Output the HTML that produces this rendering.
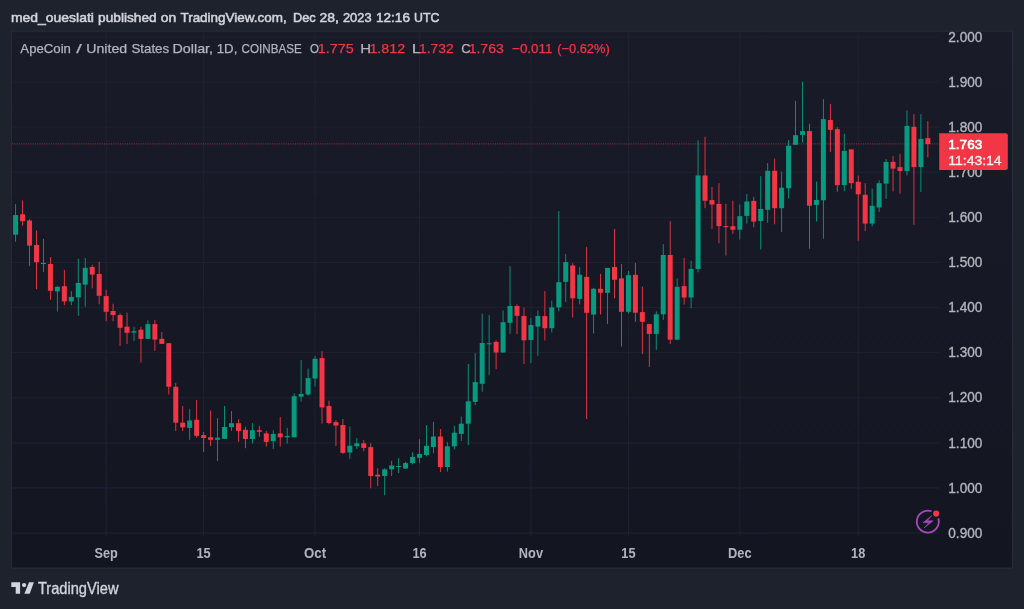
<!DOCTYPE html>
<html><head><meta charset="utf-8"><style>
html,body{margin:0;padding:0;background:#1e222d;width:1024px;height:609px;overflow:hidden}
svg{display:block;will-change:transform}
text{font-family:"Liberation Sans",sans-serif}
.hd{font-size:13.6px;fill:#d1d4dc;stroke:#d1d4dc;stroke-width:0.55px}
.lg{font-size:12.9px;fill:#b2b5be;stroke:#b2b5be;stroke-width:0.25px}
.rd{font-size:12.9px;fill:#f23645;stroke:#f23645;stroke-width:0.25px}
.ax{font-size:13.8px;fill:#b2b5be;stroke:#b2b5be;stroke-width:0.35px}
.tm{font-size:14px;font-weight:bold;fill:#b2b5be}
.bx1{font-size:13.4px;fill:#ffffff;stroke:#ffffff;stroke-width:0.6px}
.bx2{font-size:13.4px;fill:#ffffff;stroke:#ffffff;stroke-width:0.35px;opacity:0.92}
.tv{font-size:15.6px;fill:#d1d4dc;stroke:#d1d4dc;stroke-width:0.35px}
</style></head><body>
<svg width="1024" height="609" viewBox="0 0 1024 609">
<rect x="0" y="0" width="1024" height="609" fill="#1e222d"/>
<defs><linearGradient id="pg" x1="0" y1="0" x2="0" y2="1"><stop offset="0" stop-color="#191c28"/><stop offset="1" stop-color="#131621"/></linearGradient></defs>
<rect x="11.4" y="31.1" width="1001.1" height="537" fill="url(#pg)" stroke="#2a2e39" stroke-width="1"/>
<rect x="12" y="36.40" width="927.5" height="1" fill="#1f2230"/><rect x="12" y="81.51" width="927.5" height="1" fill="#1f2230"/><rect x="12" y="126.62" width="927.5" height="1" fill="#1f2230"/><rect x="12" y="171.73" width="927.5" height="1" fill="#1f2230"/><rect x="12" y="216.84" width="927.5" height="1" fill="#1f2230"/><rect x="12" y="261.95" width="927.5" height="1" fill="#1f2230"/><rect x="12" y="307.06" width="927.5" height="1" fill="#1f2230"/><rect x="12" y="352.17" width="927.5" height="1" fill="#1f2230"/><rect x="12" y="397.28" width="927.5" height="1" fill="#1f2230"/><rect x="12" y="442.39" width="927.5" height="1" fill="#1f2230"/><rect x="12" y="487.50" width="927.5" height="1" fill="#1f2230"/><rect x="12" y="532.61" width="927.5" height="1" fill="#1f2230"/><rect x="105.63" y="32" width="1" height="504" fill="#1f2230"/><rect x="203.12" y="32" width="1" height="504" fill="#1f2230"/><rect x="314.54" y="32" width="1" height="504" fill="#1f2230"/><rect x="419.00" y="32" width="1" height="504" fill="#1f2230"/><rect x="530.42" y="32" width="1" height="504" fill="#1f2230"/><rect x="627.91" y="32" width="1" height="504" fill="#1f2230"/><rect x="739.34" y="32" width="1" height="504" fill="#1f2230"/><rect x="857.72" y="32" width="1" height="504" fill="#1f2230"/>
<line x1="12" y1="143.8" x2="939" y2="143.8" stroke="#f23645" stroke-width="1.2" stroke-dasharray="1 1.3" opacity="0.55"/>
<rect x="15.15" y="204.20" width="0.9" height="37.70" fill="#089981"/><rect x="13.10" y="215.10" width="5.0" height="19.60" fill="#089981"/><rect x="22.11" y="200.50" width="0.9" height="25.30" fill="#f23645"/><rect x="20.06" y="214.30" width="5.0" height="6.90" fill="#f23645"/><rect x="29.08" y="219.10" width="0.9" height="47.00" fill="#f23645"/><rect x="27.03" y="220.50" width="5.0" height="25.10" fill="#f23645"/><rect x="36.04" y="230.40" width="0.9" height="58.70" fill="#f23645"/><rect x="33.99" y="245.00" width="5.0" height="17.20" fill="#f23645"/><rect x="43.01" y="238.90" width="0.9" height="32.90" fill="#089981"/><rect x="40.96" y="262.90" width="5.0" height="1.10" fill="#089981"/><rect x="49.97" y="257.10" width="0.9" height="42.60" fill="#f23645"/><rect x="47.92" y="264.00" width="5.0" height="26.80" fill="#f23645"/><rect x="56.93" y="286.20" width="0.9" height="25.30" fill="#089981"/><rect x="54.88" y="286.80" width="5.0" height="4.60" fill="#089981"/><rect x="63.90" y="270.10" width="0.9" height="35.10" fill="#f23645"/><rect x="61.85" y="286.20" width="5.0" height="15.20" fill="#f23645"/><rect x="70.86" y="291.10" width="0.9" height="14.10" fill="#089981"/><rect x="68.81" y="296.90" width="5.0" height="4.50" fill="#089981"/><rect x="77.82" y="258.60" width="0.9" height="57.20" fill="#089981"/><rect x="75.77" y="283.00" width="5.0" height="14.40" fill="#089981"/><rect x="84.79" y="258.00" width="0.9" height="48.70" fill="#089981"/><rect x="82.74" y="267.90" width="5.0" height="16.70" fill="#089981"/><rect x="91.75" y="264.80" width="0.9" height="23.60" fill="#f23645"/><rect x="89.70" y="267.00" width="5.0" height="7.60" fill="#f23645"/><rect x="98.72" y="261.70" width="0.9" height="42.60" fill="#f23645"/><rect x="96.67" y="274.00" width="5.0" height="21.80" fill="#f23645"/><rect x="105.68" y="290.00" width="0.9" height="31.20" fill="#f23645"/><rect x="103.63" y="296.10" width="5.0" height="15.70" fill="#f23645"/><rect x="112.64" y="303.70" width="0.9" height="17.50" fill="#f23645"/><rect x="110.59" y="311.00" width="5.0" height="4.00" fill="#f23645"/><rect x="119.61" y="313.30" width="0.9" height="32.60" fill="#f23645"/><rect x="117.56" y="315.10" width="5.0" height="12.70" fill="#f23645"/><rect x="126.57" y="312.70" width="0.9" height="31.30" fill="#f23645"/><rect x="124.52" y="326.70" width="5.0" height="6.10" fill="#f23645"/><rect x="133.53" y="326.80" width="0.9" height="14.20" fill="#089981"/><rect x="131.48" y="331.20" width="5.0" height="1.40" fill="#089981"/><rect x="140.50" y="326.80" width="0.9" height="35.70" fill="#f23645"/><rect x="138.45" y="329.70" width="5.0" height="9.20" fill="#f23645"/><rect x="147.46" y="320.30" width="0.9" height="18.60" fill="#089981"/><rect x="145.41" y="324.10" width="5.0" height="14.80" fill="#089981"/><rect x="154.43" y="319.90" width="0.9" height="31.10" fill="#f23645"/><rect x="152.38" y="324.10" width="5.0" height="15.50" fill="#f23645"/><rect x="161.39" y="332.00" width="0.9" height="11.90" fill="#f23645"/><rect x="159.34" y="338.90" width="5.0" height="5.00" fill="#f23645"/><rect x="168.35" y="343.10" width="0.9" height="51.40" fill="#f23645"/><rect x="166.30" y="343.20" width="5.0" height="43.50" fill="#f23645"/><rect x="175.32" y="382.90" width="0.9" height="48.10" fill="#f23645"/><rect x="173.27" y="386.80" width="5.0" height="35.90" fill="#f23645"/><rect x="182.28" y="406.00" width="0.9" height="25.00" fill="#f23645"/><rect x="180.23" y="422.70" width="5.0" height="4.60" fill="#f23645"/><rect x="189.25" y="408.90" width="0.9" height="30.90" fill="#089981"/><rect x="187.19" y="420.50" width="5.0" height="7.40" fill="#089981"/><rect x="196.21" y="400.00" width="0.9" height="37.80" fill="#f23645"/><rect x="194.16" y="419.80" width="5.0" height="16.00" fill="#f23645"/><rect x="203.17" y="432.00" width="0.9" height="19.90" fill="#f23645"/><rect x="201.12" y="435.10" width="5.0" height="2.90" fill="#f23645"/><rect x="210.14" y="410.50" width="0.9" height="35.50" fill="#f23645"/><rect x="208.09" y="437.20" width="5.0" height="2.60" fill="#f23645"/><rect x="217.10" y="418.10" width="0.9" height="42.90" fill="#089981"/><rect x="215.05" y="437.70" width="5.0" height="2.10" fill="#089981"/><rect x="224.06" y="406.00" width="0.9" height="32.80" fill="#089981"/><rect x="222.01" y="427.00" width="5.0" height="11.80" fill="#089981"/><rect x="231.03" y="411.00" width="0.9" height="19.90" fill="#089981"/><rect x="228.98" y="423.20" width="5.0" height="4.00" fill="#089981"/><rect x="237.99" y="419.30" width="0.9" height="22.50" fill="#f23645"/><rect x="235.94" y="423.20" width="5.0" height="7.70" fill="#f23645"/><rect x="244.96" y="426.80" width="0.9" height="21.40" fill="#f23645"/><rect x="242.91" y="429.80" width="5.0" height="9.20" fill="#f23645"/><rect x="251.92" y="423.20" width="0.9" height="20.40" fill="#089981"/><rect x="249.87" y="430.20" width="5.0" height="8.80" fill="#089981"/><rect x="258.88" y="425.90" width="0.9" height="10.90" fill="#f23645"/><rect x="256.83" y="430.20" width="5.0" height="1.60" fill="#f23645"/><rect x="265.85" y="431.10" width="0.9" height="15.40" fill="#f23645"/><rect x="263.80" y="433.40" width="5.0" height="8.50" fill="#f23645"/><rect x="272.81" y="430.20" width="0.9" height="18.70" fill="#089981"/><rect x="270.76" y="434.00" width="5.0" height="7.20" fill="#089981"/><rect x="279.77" y="417.10" width="0.9" height="29.40" fill="#f23645"/><rect x="277.72" y="433.40" width="5.0" height="3.90" fill="#f23645"/><rect x="286.74" y="427.80" width="0.9" height="15.80" fill="#089981"/><rect x="284.69" y="436.00" width="5.0" height="1.30" fill="#089981"/><rect x="293.70" y="393.20" width="0.9" height="44.10" fill="#089981"/><rect x="291.65" y="396.20" width="5.0" height="41.10" fill="#089981"/><rect x="300.67" y="360.00" width="0.9" height="41.70" fill="#089981"/><rect x="298.62" y="393.90" width="5.0" height="2.80" fill="#089981"/><rect x="307.63" y="368.60" width="0.9" height="27.20" fill="#089981"/><rect x="305.58" y="378.10" width="5.0" height="16.40" fill="#089981"/><rect x="314.59" y="355.80" width="0.9" height="30.80" fill="#089981"/><rect x="312.54" y="358.80" width="5.0" height="19.70" fill="#089981"/><rect x="321.56" y="351.20" width="0.9" height="72.40" fill="#f23645"/><rect x="319.51" y="358.10" width="5.0" height="49.30" fill="#f23645"/><rect x="328.52" y="400.70" width="0.9" height="23.60" fill="#f23645"/><rect x="326.47" y="406.00" width="5.0" height="17.00" fill="#f23645"/><rect x="335.48" y="420.00" width="0.9" height="26.00" fill="#f23645"/><rect x="333.43" y="422.10" width="5.0" height="3.50" fill="#f23645"/><rect x="342.45" y="419.00" width="0.9" height="34.90" fill="#f23645"/><rect x="340.40" y="425.00" width="5.0" height="27.90" fill="#f23645"/><rect x="349.41" y="426.50" width="0.9" height="32.40" fill="#089981"/><rect x="347.36" y="445.70" width="5.0" height="6.80" fill="#089981"/><rect x="356.38" y="438.10" width="0.9" height="10.80" fill="#089981"/><rect x="354.33" y="443.30" width="5.0" height="2.90" fill="#089981"/><rect x="363.34" y="440.10" width="0.9" height="11.10" fill="#f23645"/><rect x="361.29" y="443.30" width="5.0" height="4.60" fill="#f23645"/><rect x="370.30" y="443.10" width="0.9" height="45.20" fill="#f23645"/><rect x="368.25" y="447.10" width="5.0" height="28.90" fill="#f23645"/><rect x="377.27" y="468.30" width="0.9" height="17.80" fill="#f23645"/><rect x="375.22" y="474.70" width="5.0" height="1.80" fill="#f23645"/><rect x="384.23" y="468.30" width="0.9" height="27.00" fill="#089981"/><rect x="382.18" y="469.30" width="5.0" height="6.70" fill="#089981"/><rect x="391.20" y="460.70" width="0.9" height="15.30" fill="#089981"/><rect x="389.15" y="465.50" width="5.0" height="3.80" fill="#089981"/><rect x="398.16" y="458.10" width="0.9" height="14.90" fill="#089981"/><rect x="396.11" y="466.00" width="5.0" height="1.00" fill="#089981"/><rect x="405.12" y="461.80" width="0.9" height="6.80" fill="#089981"/><rect x="403.07" y="463.10" width="5.0" height="5.50" fill="#089981"/><rect x="412.09" y="452.30" width="0.9" height="12.10" fill="#089981"/><rect x="410.04" y="456.90" width="5.0" height="6.20" fill="#089981"/><rect x="419.05" y="439.20" width="0.9" height="23.90" fill="#089981"/><rect x="417.00" y="453.90" width="5.0" height="3.90" fill="#089981"/><rect x="426.01" y="425.20" width="0.9" height="31.10" fill="#089981"/><rect x="423.96" y="445.80" width="5.0" height="9.20" fill="#089981"/><rect x="432.98" y="421.90" width="0.9" height="31.30" fill="#089981"/><rect x="430.93" y="436.50" width="5.0" height="10.50" fill="#089981"/><rect x="439.94" y="429.00" width="0.9" height="43.10" fill="#f23645"/><rect x="437.89" y="436.50" width="5.0" height="30.50" fill="#f23645"/><rect x="446.91" y="442.10" width="0.9" height="29.50" fill="#089981"/><rect x="444.86" y="446.30" width="5.0" height="20.70" fill="#089981"/><rect x="453.87" y="425.80" width="0.9" height="23.70" fill="#089981"/><rect x="451.82" y="432.70" width="5.0" height="13.60" fill="#089981"/><rect x="460.83" y="416.50" width="0.9" height="24.60" fill="#089981"/><rect x="458.78" y="423.70" width="5.0" height="10.20" fill="#089981"/><rect x="467.80" y="364.00" width="0.9" height="81.00" fill="#089981"/><rect x="465.75" y="401.30" width="5.0" height="22.40" fill="#089981"/><rect x="474.76" y="353.10" width="0.9" height="52.10" fill="#089981"/><rect x="472.71" y="382.10" width="5.0" height="19.80" fill="#089981"/><rect x="481.72" y="313.70" width="0.9" height="78.00" fill="#089981"/><rect x="479.67" y="343.00" width="5.0" height="40.80" fill="#089981"/><rect x="488.69" y="315.00" width="0.9" height="60.30" fill="#089981"/><rect x="486.64" y="343.30" width="5.0" height="1.00" fill="#089981"/><rect x="495.65" y="340.30" width="0.9" height="28.90" fill="#f23645"/><rect x="493.60" y="341.90" width="5.0" height="10.60" fill="#f23645"/><rect x="502.62" y="310.50" width="0.9" height="42.00" fill="#089981"/><rect x="500.57" y="322.20" width="5.0" height="30.30" fill="#089981"/><rect x="509.58" y="266.20" width="0.9" height="67.60" fill="#089981"/><rect x="507.53" y="306.00" width="5.0" height="16.80" fill="#089981"/><rect x="516.54" y="304.30" width="0.9" height="29.80" fill="#f23645"/><rect x="514.49" y="306.00" width="5.0" height="9.80" fill="#f23645"/><rect x="523.51" y="307.40" width="0.9" height="56.60" fill="#f23645"/><rect x="521.46" y="316.00" width="5.0" height="24.30" fill="#f23645"/><rect x="530.47" y="318.00" width="0.9" height="45.00" fill="#089981"/><rect x="528.42" y="325.00" width="5.0" height="15.00" fill="#089981"/><rect x="537.43" y="310.50" width="0.9" height="45.20" fill="#089981"/><rect x="535.38" y="316.00" width="5.0" height="10.60" fill="#089981"/><rect x="544.40" y="291.00" width="0.9" height="49.40" fill="#f23645"/><rect x="542.35" y="316.10" width="5.0" height="12.10" fill="#f23645"/><rect x="551.36" y="300.60" width="0.9" height="31.90" fill="#089981"/><rect x="549.31" y="307.40" width="5.0" height="20.80" fill="#089981"/><rect x="558.33" y="211.00" width="0.9" height="100.30" fill="#089981"/><rect x="556.28" y="282.20" width="5.0" height="25.20" fill="#089981"/><rect x="565.29" y="254.00" width="0.9" height="48.00" fill="#089981"/><rect x="563.24" y="262.10" width="5.0" height="19.80" fill="#089981"/><rect x="572.25" y="263.10" width="0.9" height="54.40" fill="#f23645"/><rect x="570.20" y="265.50" width="5.0" height="32.80" fill="#f23645"/><rect x="579.22" y="267.10" width="0.9" height="37.30" fill="#089981"/><rect x="577.17" y="274.70" width="5.0" height="24.20" fill="#089981"/><rect x="586.18" y="247.10" width="0.9" height="171.90" fill="#f23645"/><rect x="584.13" y="276.90" width="5.0" height="35.90" fill="#f23645"/><rect x="593.15" y="287.80" width="0.9" height="45.70" fill="#089981"/><rect x="591.10" y="288.80" width="5.0" height="25.80" fill="#089981"/><rect x="600.11" y="273.90" width="0.9" height="40.60" fill="#f23645"/><rect x="598.06" y="288.80" width="5.0" height="3.90" fill="#f23645"/><rect x="607.07" y="267.90" width="0.9" height="56.20" fill="#089981"/><rect x="605.02" y="267.90" width="5.0" height="25.00" fill="#089981"/><rect x="614.04" y="229.00" width="0.9" height="69.30" fill="#f23645"/><rect x="611.99" y="267.00" width="5.0" height="12.80" fill="#f23645"/><rect x="621.00" y="264.00" width="0.9" height="82.60" fill="#f23645"/><rect x="618.95" y="278.40" width="5.0" height="33.40" fill="#f23645"/><rect x="627.96" y="271.00" width="0.9" height="42.60" fill="#089981"/><rect x="625.91" y="275.20" width="5.0" height="36.60" fill="#089981"/><rect x="634.93" y="263.00" width="0.9" height="58.80" fill="#f23645"/><rect x="632.88" y="274.80" width="5.0" height="37.90" fill="#f23645"/><rect x="641.89" y="286.70" width="0.9" height="67.30" fill="#f23645"/><rect x="639.84" y="312.10" width="5.0" height="9.70" fill="#f23645"/><rect x="648.86" y="323.60" width="0.9" height="43.30" fill="#f23645"/><rect x="646.81" y="324.10" width="5.0" height="9.80" fill="#f23645"/><rect x="655.82" y="311.30" width="0.9" height="38.40" fill="#089981"/><rect x="653.77" y="314.30" width="5.0" height="19.60" fill="#089981"/><rect x="662.78" y="244.20" width="0.9" height="75.60" fill="#089981"/><rect x="660.73" y="255.00" width="5.0" height="59.30" fill="#089981"/><rect x="669.75" y="221.20" width="0.9" height="122.70" fill="#f23645"/><rect x="667.70" y="255.00" width="5.0" height="84.70" fill="#f23645"/><rect x="676.71" y="278.40" width="0.9" height="61.30" fill="#089981"/><rect x="674.66" y="286.90" width="5.0" height="52.80" fill="#089981"/><rect x="683.67" y="257.90" width="0.9" height="46.70" fill="#f23645"/><rect x="681.62" y="286.10" width="5.0" height="11.40" fill="#f23645"/><rect x="690.64" y="260.80" width="0.9" height="47.50" fill="#089981"/><rect x="688.59" y="268.90" width="5.0" height="28.60" fill="#089981"/><rect x="697.60" y="140.30" width="0.9" height="132.00" fill="#089981"/><rect x="695.55" y="175.40" width="5.0" height="93.70" fill="#089981"/><rect x="704.57" y="136.70" width="0.9" height="71.50" fill="#f23645"/><rect x="702.52" y="175.50" width="5.0" height="25.30" fill="#f23645"/><rect x="711.53" y="187.00" width="0.9" height="41.90" fill="#f23645"/><rect x="709.48" y="200.10" width="5.0" height="4.40" fill="#f23645"/><rect x="718.49" y="183.20" width="0.9" height="60.00" fill="#f23645"/><rect x="716.44" y="203.90" width="5.0" height="22.20" fill="#f23645"/><rect x="725.46" y="203.90" width="0.9" height="51.60" fill="#f23645"/><rect x="723.41" y="226.10" width="5.0" height="1.10" fill="#f23645"/><rect x="732.42" y="200.80" width="0.9" height="33.00" fill="#f23645"/><rect x="730.37" y="226.20" width="5.0" height="3.50" fill="#f23645"/><rect x="739.39" y="204.40" width="0.9" height="35.10" fill="#089981"/><rect x="737.34" y="216.20" width="5.0" height="13.50" fill="#089981"/><rect x="746.35" y="194.00" width="0.9" height="29.60" fill="#089981"/><rect x="744.30" y="201.50" width="5.0" height="14.40" fill="#089981"/><rect x="753.31" y="196.90" width="0.9" height="30.50" fill="#f23645"/><rect x="751.26" y="200.90" width="5.0" height="20.70" fill="#f23645"/><rect x="760.28" y="176.20" width="0.9" height="73.30" fill="#089981"/><rect x="758.23" y="209.00" width="5.0" height="12.00" fill="#089981"/><rect x="767.24" y="163.00" width="0.9" height="59.80" fill="#089981"/><rect x="765.19" y="170.80" width="5.0" height="39.00" fill="#089981"/><rect x="774.20" y="158.60" width="0.9" height="65.70" fill="#f23645"/><rect x="772.15" y="170.80" width="5.0" height="37.40" fill="#f23645"/><rect x="781.17" y="171.60" width="0.9" height="60.40" fill="#089981"/><rect x="779.12" y="187.70" width="5.0" height="20.50" fill="#089981"/><rect x="788.13" y="140.00" width="0.9" height="58.50" fill="#089981"/><rect x="786.08" y="145.70" width="5.0" height="42.60" fill="#089981"/><rect x="795.10" y="100.70" width="0.9" height="44.10" fill="#089981"/><rect x="793.05" y="135.20" width="5.0" height="9.60" fill="#089981"/><rect x="802.06" y="81.70" width="0.9" height="60.80" fill="#089981"/><rect x="800.01" y="131.10" width="5.0" height="3.80" fill="#089981"/><rect x="809.02" y="123.70" width="0.9" height="125.00" fill="#f23645"/><rect x="806.97" y="131.10" width="5.0" height="74.60" fill="#f23645"/><rect x="815.99" y="181.60" width="0.9" height="40.00" fill="#089981"/><rect x="813.94" y="200.00" width="5.0" height="4.90" fill="#089981"/><rect x="822.95" y="99.00" width="0.9" height="139.80" fill="#089981"/><rect x="820.90" y="119.10" width="5.0" height="81.20" fill="#089981"/><rect x="829.91" y="103.90" width="0.9" height="48.10" fill="#f23645"/><rect x="827.86" y="120.00" width="5.0" height="9.90" fill="#f23645"/><rect x="836.88" y="127.10" width="0.9" height="64.60" fill="#f23645"/><rect x="834.83" y="129.10" width="5.0" height="56.00" fill="#f23645"/><rect x="843.84" y="133.90" width="0.9" height="57.20" fill="#089981"/><rect x="841.79" y="150.90" width="5.0" height="34.20" fill="#089981"/><rect x="850.81" y="149.40" width="0.9" height="39.50" fill="#f23645"/><rect x="848.76" y="149.40" width="5.0" height="33.70" fill="#f23645"/><rect x="857.77" y="175.60" width="0.9" height="65.20" fill="#f23645"/><rect x="855.72" y="181.80" width="5.0" height="12.50" fill="#f23645"/><rect x="864.73" y="183.20" width="0.9" height="47.90" fill="#f23645"/><rect x="862.68" y="194.80" width="5.0" height="28.80" fill="#f23645"/><rect x="871.70" y="188.60" width="0.9" height="37.90" fill="#089981"/><rect x="869.65" y="205.80" width="5.0" height="17.80" fill="#089981"/><rect x="878.66" y="180.20" width="0.9" height="31.70" fill="#089981"/><rect x="876.61" y="183.20" width="5.0" height="24.30" fill="#089981"/><rect x="885.62" y="159.00" width="0.9" height="39.90" fill="#089981"/><rect x="883.58" y="161.90" width="5.0" height="21.70" fill="#089981"/><rect x="892.59" y="156.10" width="0.9" height="35.30" fill="#f23645"/><rect x="890.54" y="161.90" width="5.0" height="6.70" fill="#f23645"/><rect x="899.55" y="153.90" width="0.9" height="39.80" fill="#f23645"/><rect x="897.50" y="167.10" width="5.0" height="3.90" fill="#f23645"/><rect x="906.52" y="110.50" width="0.9" height="64.80" fill="#089981"/><rect x="904.47" y="125.90" width="5.0" height="45.10" fill="#089981"/><rect x="913.48" y="114.20" width="0.9" height="110.60" fill="#f23645"/><rect x="911.43" y="126.80" width="5.0" height="40.30" fill="#f23645"/><rect x="920.44" y="114.20" width="0.9" height="77.80" fill="#089981"/><rect x="918.39" y="138.90" width="5.0" height="28.20" fill="#089981"/><rect x="927.41" y="121.10" width="0.9" height="36.20" fill="#f23645"/><rect x="925.36" y="138.10" width="5.0" height="6.00" fill="#f23645"/>
<text x="948.3" y="41.60" class="ax" textLength="34" lengthAdjust="spacingAndGlyphs">2.000</text><text x="948.3" y="86.71" class="ax" textLength="34" lengthAdjust="spacingAndGlyphs">1.900</text><text x="948.3" y="131.82" class="ax" textLength="34" lengthAdjust="spacingAndGlyphs">1.800</text><text x="948.3" y="176.93" class="ax" textLength="34" lengthAdjust="spacingAndGlyphs">1.700</text><text x="948.3" y="222.04" class="ax" textLength="34" lengthAdjust="spacingAndGlyphs">1.600</text><text x="948.3" y="267.15" class="ax" textLength="34" lengthAdjust="spacingAndGlyphs">1.500</text><text x="948.3" y="312.26" class="ax" textLength="34" lengthAdjust="spacingAndGlyphs">1.400</text><text x="948.3" y="357.37" class="ax" textLength="34" lengthAdjust="spacingAndGlyphs">1.300</text><text x="948.3" y="402.48" class="ax" textLength="34" lengthAdjust="spacingAndGlyphs">1.200</text><text x="948.3" y="447.59" class="ax" textLength="34" lengthAdjust="spacingAndGlyphs">1.100</text><text x="948.3" y="492.70" class="ax" textLength="34" lengthAdjust="spacingAndGlyphs">1.000</text><text x="948.3" y="537.81" class="ax" textLength="34" lengthAdjust="spacingAndGlyphs">0.900</text>
<text x="106.13" y="558.1" class="tm" text-anchor="middle" textLength="23.3" lengthAdjust="spacingAndGlyphs">Sep</text><text x="203.62" y="558.1" class="tm" text-anchor="middle" textLength="14.2" lengthAdjust="spacingAndGlyphs">15</text><text x="315.04" y="558.1" class="tm" text-anchor="middle" textLength="22.0" lengthAdjust="spacingAndGlyphs">Oct</text><text x="419.50" y="558.1" class="tm" text-anchor="middle" textLength="14.2" lengthAdjust="spacingAndGlyphs">16</text><text x="530.92" y="558.1" class="tm" text-anchor="middle" textLength="24.2" lengthAdjust="spacingAndGlyphs">Nov</text><text x="628.41" y="558.1" class="tm" text-anchor="middle" textLength="14.2" lengthAdjust="spacingAndGlyphs">15</text><text x="739.84" y="558.1" class="tm" text-anchor="middle" textLength="23.5" lengthAdjust="spacingAndGlyphs">Dec</text><text x="858.22" y="558.1" class="tm" text-anchor="middle" textLength="14.2" lengthAdjust="spacingAndGlyphs">18</text>
<path d="M939.2 133.3 H1005.8 Q1007.8 133.3 1007.8 135.3 V168 Q1007.8 170 1005.8 170 H939.2 Z" fill="#f23645"/>
<text x="11.02" y="21.9" class="hd" textLength="82.88" lengthAdjust="spacingAndGlyphs">med_oueslati</text><text x="98.11" y="21.9" class="hd" textLength="58.52" lengthAdjust="spacingAndGlyphs">published</text><text x="160.88" y="21.9" class="hd" textLength="15.44" lengthAdjust="spacingAndGlyphs">on</text><text x="180.43" y="21.9" class="hd" textLength="106.25" lengthAdjust="spacingAndGlyphs">TradingView.com,</text><text x="293.01" y="21.9" class="hd" textLength="22.74" lengthAdjust="spacingAndGlyphs">Dec</text><text x="319.40" y="21.9" class="hd" textLength="19.38" lengthAdjust="spacingAndGlyphs">28,</text><text x="342.96" y="21.9" class="hd" textLength="28.61" lengthAdjust="spacingAndGlyphs">2023</text><text x="375.95" y="21.9" class="hd" textLength="34.04" lengthAdjust="spacingAndGlyphs">12:16</text><text x="414.06" y="21.9" class="hd" textLength="25.41" lengthAdjust="spacingAndGlyphs">UTC</text><text x="20.39" y="52.9" class="lg" textLength="50.52" lengthAdjust="spacingAndGlyphs">ApeCoin</text><text x="76.20" y="52.9" class="lg" textLength="5.46" lengthAdjust="spacingAndGlyphs">/</text><text x="86.29" y="52.9" class="lg" textLength="40.83" lengthAdjust="spacingAndGlyphs">United</text><text x="131.40" y="52.9" class="lg" textLength="37.82" lengthAdjust="spacingAndGlyphs">States</text><text x="172.51" y="52.9" class="lg" textLength="40.57" lengthAdjust="spacingAndGlyphs">Dollar,</text><text x="216.74" y="52.9" class="lg" textLength="20.58" lengthAdjust="spacingAndGlyphs">1D,</text><text x="241.59" y="52.9" class="lg" textLength="60.10" lengthAdjust="spacingAndGlyphs">COINBASE</text><text x="309.97" y="52.9" class="lg" textLength="9.02" lengthAdjust="spacingAndGlyphs">O</text><text x="317.89" y="52.9" class="rd" textLength="35.84" lengthAdjust="spacingAndGlyphs">1.775</text><text x="360.37" y="52.9" class="lg" textLength="10.81" lengthAdjust="spacingAndGlyphs">H</text><text x="369.45" y="52.9" class="rd" textLength="35.64" lengthAdjust="spacingAndGlyphs">1.812</text><text x="411.76" y="52.9" class="lg" textLength="9.79" lengthAdjust="spacingAndGlyphs">L</text><text x="419.11" y="52.9" class="rd" textLength="34.49" lengthAdjust="spacingAndGlyphs">1.732</text><text x="461.20" y="52.9" class="lg" textLength="9.40" lengthAdjust="spacingAndGlyphs">C</text><text x="468.67" y="52.9" class="rd" textLength="35.14" lengthAdjust="spacingAndGlyphs">1.763</text><text x="512.06" y="52.9" class="rd" textLength="40.40" lengthAdjust="spacingAndGlyphs">−0.011</text><text x="557.34" y="52.9" class="rd" textLength="52.32" lengthAdjust="spacingAndGlyphs">(−0.62%)</text><text x="948.29" y="148.7" class="bx1" textLength="33.99" lengthAdjust="spacingAndGlyphs">1.763</text><text x="948.32" y="165.0" class="bx2" textLength="53.26" lengthAdjust="spacingAndGlyphs">11:43:14</text><text x="37.90" y="594.2" class="tv" textLength="80.56" lengthAdjust="spacingAndGlyphs">TradingView</text>
<g fill="#d1d4dc">
<path d="M11.3 582.3 H20.1 V593.8 H15.7 V586.9 H11.3 Z"/>
<circle cx="24.1" cy="585.1" r="2.15"/>
<path d="M29.0 582.3 H33.9 L29.7 593.8 H24.4 Z"/>
</g>
<path d="M938.32 518.38 A11.0 11.0 0 1 1 931.56 511.26" fill="none" stroke="#ab47bc" stroke-width="1.8"/>
<path d="M931.9 515.6 L922.9 522.7 L928.9 522.7 L924.0 528.0 L933.2 520.7 L927.2 520.7 Z" fill="#ab47bc" stroke="#ab47bc" stroke-width="0.5" stroke-linejoin="round"/>
<circle cx="936.2" cy="513.6" r="3.1" fill="#f23645"/>
</svg>
</body></html>
